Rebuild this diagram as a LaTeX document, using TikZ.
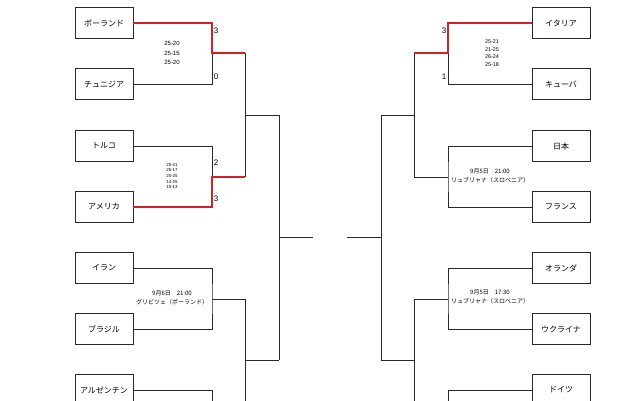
\documentclass[tikz,border=0pt]{standalone}
\usepackage{fontspec}
\newfontfamily\jpfont{Noto Sans CJK JP}
\newfontfamily\numfont{Liberation Sans}
\usetikzlibrary{positioning,calc}
\definecolor{winred}{HTML}{D02328}
\definecolor{frameline}{HTML}{2A2A2A}

\begin{document}
\begin{tikzpicture}[x=1pt,y=-1pt,
  team/.style={draw=frameline,line width=0.9pt,minimum width=58pt,minimum height=31pt,inner sep=0pt,font=\jpfont\fontsize{8}{9}\selectfont},
  bracket/.style={draw=frameline,line width=0.8pt},
  win/.style={draw=winred,line width=2.4pt},
  score/.style={inner sep=0pt,font=\numfont\fontsize{8}{9}\selectfont},
  info/.style={align=center,inner sep=0pt,font=\jpfont\fontsize{6}{8.5}\selectfont},
  sets/.style={align=center,inner sep=0pt,font=\numfont\fontsize{6}{9.5}\selectfont}
]
\useasboundingbox (0,0) rectangle (640,400);
\clip (0,0) rectangle (640,400);
\node[team] (pol) at (104,23) {ポーランド};
\node[team] (tun) at (104,84) {チュニジア};
\node[team] (tur) at (104,146) {トルコ};
\node[team] (usa) at (104,207) {アメリカ};
\node[team] (irn) at (104,268) {イラン};
\node[team] (bra) at (104,329) {ブラジル};
\node[team] (arg) at (104,390) {アルゼンチン};
\node[team] (ita) at (561,23) {イタリア};
\node[team] (cub) at (561,84) {キューバ};
\node[team] (jpn) at (561,146) {日本};
\node[team] (fra) at (561,207) {フランス};
\node[team] (ned) at (561,268) {オランダ};
\node[team] (ukr) at (561,329) {ウクライナ};
\node[team] (ger) at (561,390) {ドイツ};
\coordinate (m1) at (212,53);
\coordinate (m2) at (212,177);
\coordinate (m3) at (212,299);
\coordinate (m4) at (212,421);
\coordinate (q1) at (245,115);
\coordinate (q2) at (245,360);
\coordinate (s1) at (279,237);
\coordinate (fl) at (313,237);
\coordinate (n1) at (448,53);
\coordinate (n2) at (448,177);
\coordinate (n3) at (448,299);
\coordinate (n4) at (448,421);
\coordinate (r1) at (414,115);
\coordinate (r2) at (414,360);
\coordinate (s2) at (381,237);
\coordinate (fr) at (347,237);
\draw[bracket] (tun.east) -| (m1);
\draw[bracket] (tur.east) -| (m2);
\draw[bracket] (irn.east) -| (m3) |- (bra.east);
\draw[bracket] (m3) -- (m3 -| q2);
\draw[bracket] (arg.east) -| (m4) -- (m4 -| q2);
\draw[bracket] (m1 -| q1) -- (m2 -| q1);
\draw[bracket] (q1) -- (q1 -| s1);
\draw[bracket] (m3 -| q2) -- (m4 -| q2);
\draw[bracket] (q2) -- (q2 -| s1);
\draw[bracket] (q1 -| s1) -- (q2 -| s1);
\draw[bracket] (s1) -- (fl);
\draw[bracket] (cub.west) -| (n1);
\draw[bracket] (jpn.west) -| (n2) |- (fra.west);
\draw[bracket] (n2) -- (n2 -| r1);
\draw[bracket] (ned.west) -| (n3) |- (ukr.west);
\draw[bracket] (n3) -- (n3 -| r2);
\draw[bracket] (ger.west) -| (n4) -- (n4 -| r2);
\draw[bracket] (n1 -| r1) -- (n2 -| r1);
\draw[bracket] (r1) -- (r1 -| s2);
\draw[bracket] (n3 -| r2) -- (n4 -| r2);
\draw[bracket] (r2) -- (r2 -| s2);
\draw[bracket] (r1 -| s2) -- (r2 -| s2);
\draw[bracket] (s2) -- (fr);
\draw[win] (pol.east) -| (m1) -- (m1 -| q1);
\draw[win] (usa.east) -| (m2) -- (m2 -| q1);
\draw[win] (ita.west) -| (n1) -- (n1 -| r1);
\node[score] (polsc) at (216,31) {3};
\node[score] (tunsc) at (216,77) {0};
\node[score] (tursc) at (216,163) {2};
\node[score] (usasc) at (216,199) {3};
\node[score] (itasc) at (444,31) {3};
\node[score] (cubsc) at (444,77) {1};
\node[sets] (setsA) at (172,53) {25-20\\25-15\\25-20};
\node[sets,font=\numfont\fontsize{4.4}{5.6}\selectfont] (setsB) at (172,176) {25-21\\25-17\\20-25\\14-25\\15-13};
\node[sets,font=\numfont\fontsize{5.4}{7.7}\selectfont] (setsC) at (492,53) {25-21\\21-25\\26-24\\25-18};
\node[info] (infoA) at (172,298) {9月6日　21:00\\グリビツェ（ポーランド）};
\node[info] (infoB) at (490,176) {9月5日　21:00\\リュブリャナ（スロベニア）};
\node[info] (infoC) at (490,297) {9月5日　17:30\\リュブリャナ（スロベニア）};
\end{tikzpicture}
\end{document}
